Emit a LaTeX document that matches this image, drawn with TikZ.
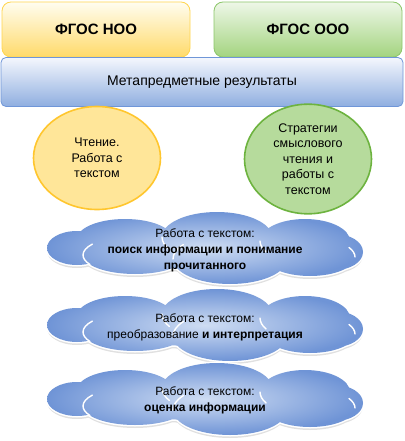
\documentclass[tikz,border=0pt]{standalone}
\usepackage{fontspec}
\setmainfont{Liberation Sans}
\usetikzlibrary{shapes.geometric}
\definecolor{yTop}{HTML}{FFFDF0}
\definecolor{yBot}{HTML}{FFDA6A}
\definecolor{yLine}{HTML}{FFD54F}
\definecolor{gTop}{HTML}{EEF7E8}
\definecolor{gBot}{HTML}{A3D47F}
\definecolor{gLine}{HTML}{8CC66A}
\definecolor{bTop}{HTML}{F4F7FD}
\definecolor{bBot}{HTML}{8FAEE0}
\definecolor{bLine}{HTML}{6F96D8}
\definecolor{yEllFill}{HTML}{FFE699}
\definecolor{yEllLine}{HTML}{FFC62E}
\definecolor{gEllFill}{HTML}{B6DB9C}
\definecolor{gEllLine}{HTML}{6DB33F}
\definecolor{cIn}{HTML}{CFDDF3}
\definecolor{cOut}{HTML}{6F94D6}
\newcommand\cloudunion{
  (-128,-1) ellipse[x radius=30,y radius=17]
  (-80,-10) ellipse[x radius=48,y radius=20]
  (12,-12) ellipse[x radius=55,y radius=25]
  (100,-8) ellipse[x radius=45,y radius=22]
  (130,3) ellipse[x radius=28,y radius=18]
  (105,8) ellipse[x radius=45,y radius=19]
  (25,10) ellipse[x radius=57,y radius=25]
  (-70,6) ellipse[x radius=52,y radius=19]
  (0,0) ellipse[x radius=130,y radius=20]}
\newcommand\cloudcreases{
  (-122,6) arc[start angle=180,end angle=215,x radius=52,y radius=19]
  (-122,6) arc[start angle=180,end angle=150,x radius=52,y radius=19]
  (-32,10) arc[start angle=180,end angle=215,x radius=57,y radius=25]
  (-43,-12) arc[start angle=180,end angle=150,x radius=55,y radius=25]
  (150,8) arc[start angle=0,end angle=-30,x radius=45,y radius=19]
  (55,-8) arc[start angle=180,end angle=150,x radius=45,y radius=22]}
\tikzset{
  topbox/.style={rectangle, rounded corners=9pt, minimum width=188pt, minimum height=55pt, line width=0.8pt, font=\fontsize{15}{18}\selectfont\bfseries},
  barbox/.style={rectangle, rounded corners=5pt, minimum width=402pt, minimum height=49pt, line width=0.8pt, top color=bTop, bottom color=bBot, draw=bLine, font=\fontsize{14}{16}\selectfont},
  ell/.style={ellipse, minimum width=127pt, minimum height=103pt, line width=1.6pt, align=center, font=\fontsize{12.5}{15.5}\selectfont},
  cloudshadow/.style={fill=black, opacity=0.12},
  cloudedge/.style={draw=white, line width=3pt},
  cloudfill/.style={inner color=cIn, outer color=cOut},
  crease/.style={draw=white, line width=1.4pt, line cap=round},
  cloudtext/.style={align=center, font=\fontsize{12}{16}\selectfont}
}
\begin{document}
\begin{tikzpicture}[x=1pt,y=-1pt]
\useasboundingbox (0,0) rectangle (404,441);
\node[topbox, top color=yTop, bottom color=yBot, draw=yLine] (noo) at (96,29.5) {ФГОС НОО};
\node[topbox, top color=gTop, bottom color=gBot, draw=gLine] (ooo) at (308,29.5) {ФГОС ООО};
\node[barbox] (meta) at (202,82) {Метапредметные результаты};
\node[ell, fill=yEllFill, draw=yEllLine] (read) at (97,158) {Чтение.\\Работа с\\текстом};
\node[ell, fill=gEllFill, draw=gEllLine] (strat) at (308,159) {Стратегии\\смыслового\\чтения и\\работы с\\текстом};
\foreach \cy in {249,326,400}{
  \begin{scope}[shift={(205,\cy+3)}]
    \path[cloudshadow] \cloudunion;
  \end{scope}
  \begin{scope}[shift={(205,\cy)}]
    \path[cloudedge] \cloudunion;
    \shade[cloudfill] \cloudunion;
    \path[crease] \cloudcreases;
  \end{scope}
}
\node[cloudtext] (t1) at (205,250) {Работа с текстом:\\\textbf{поиск информации и понимание}\\\textbf{прочитанного}};
\node[cloudtext] (t2) at (205,327) {Работа с текстом:\\преобразование \textbf{и интерпретация}};
\node[cloudtext] (t3) at (205,400) {Работа с текстом:\\\textbf{оценка информации}};
\end{tikzpicture}
\end{document}
